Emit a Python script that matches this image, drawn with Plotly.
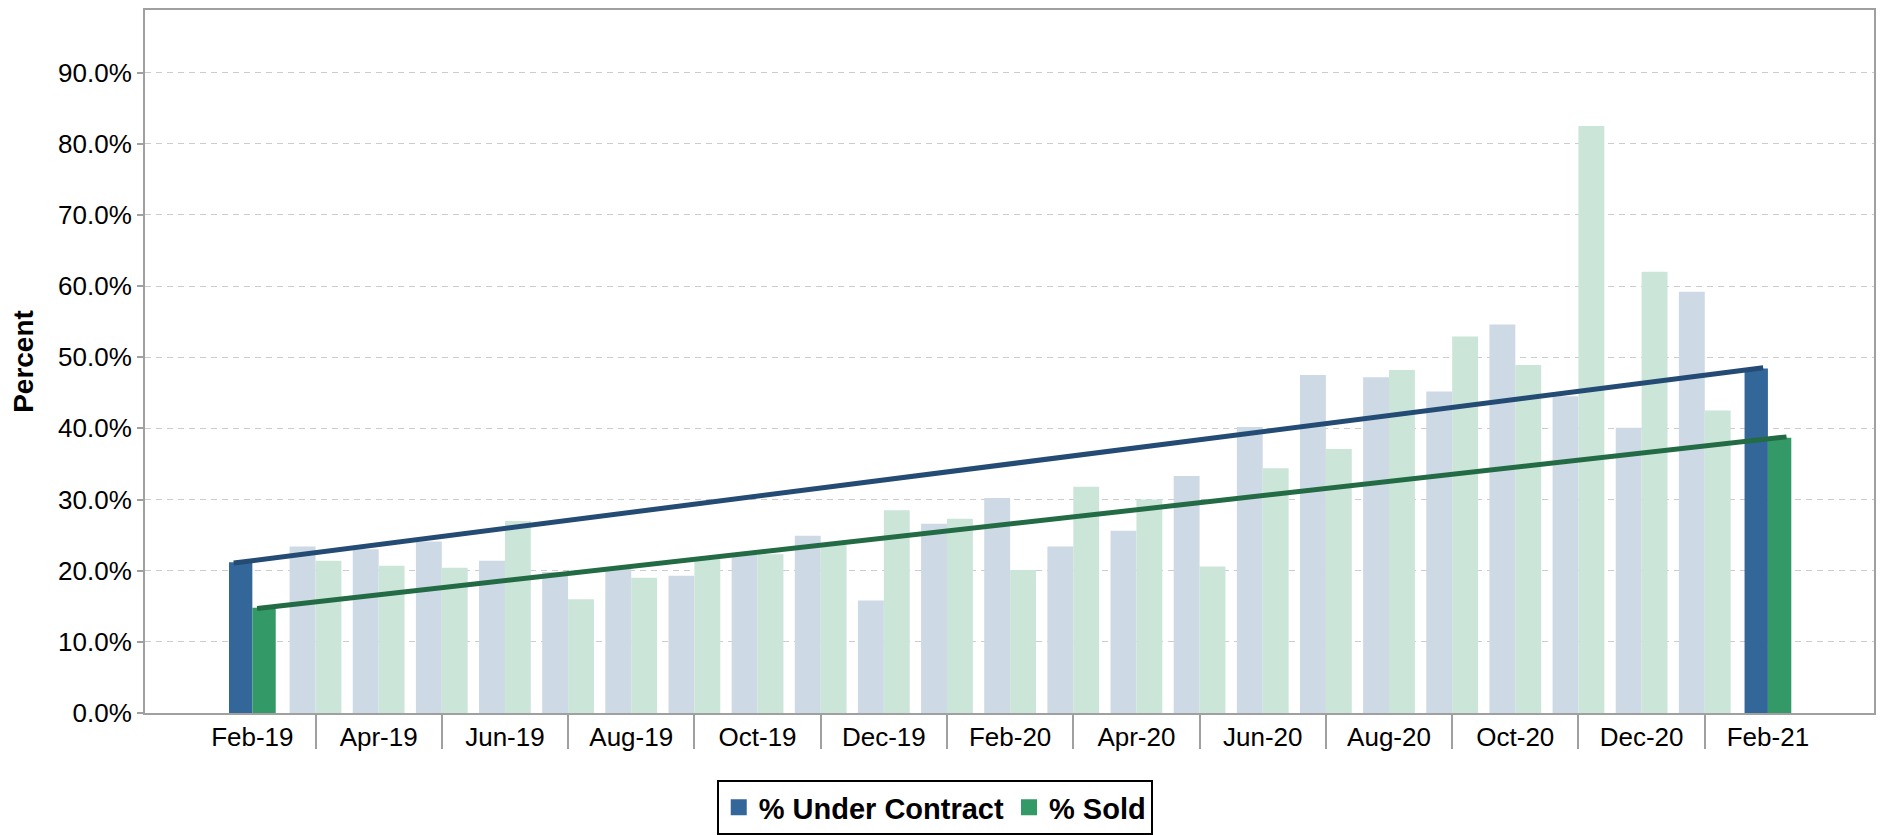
import plotly.graph_objects as go

# ---------------- data ----------------
months = ["Feb-19", "Mar-19", "Apr-19", "May-19", "Jun-19", "Jul-19", "Aug-19",
          "Sep-19", "Oct-19", "Nov-19", "Dec-19", "Jan-20", "Feb-20", "Mar-20",
          "Apr-20", "May-20", "Jun-20", "Jul-20", "Aug-20", "Sep-20", "Oct-20",
          "Nov-20", "Dec-20", "Jan-21", "Feb-21"]
under_contract = [21.2, 23.4, 23.0, 24.1, 21.4, 19.8, 20.3, 19.3, 22.2, 24.9,
                  15.8, 26.6, 30.2, 23.4, 25.6, 33.3, 40.2, 47.5, 47.2, 45.2,
                  54.6, 44.5, 40.1, 59.2, 48.4]
sold = [14.8, 21.4, 20.7, 20.4, 27.0, 16.0, 19.0, 21.6, 22.3, 23.6,
        28.5, 27.3, 20.1, 31.8, 30.0, 20.6, 34.4, 37.1, 48.2, 52.9,
        48.9, 82.5, 62.0, 42.5, 38.7]
highlighted = [0, len(months) - 1]          # first and last month are emphasised
y_ticks = [0, 10, 20, 30, 40, 50, 60, 70, 80, 90]
y_ticktext = [f"{v:.1f}%" for v in y_ticks]

# ---------------- styles ----------------
UC_DARK, UC_LIGHT = "#336699", "#cdd9e4"
SD_DARK, SD_LIGHT = "#339966", "#cce5d9"
UC_LINE, SD_LINE = "#234b73", "#236b45"
FONT = "Liberation Sans, Arial, sans-serif"
W_HI, W_LO = 0.37, 0.41

x = list(range(len(months)))
is_hi = [i in highlighted for i in x]
widths = [W_HI if h else W_LO for h in is_hi]

fig = go.Figure()
fig.add_trace(go.Bar(
    x=x, y=under_contract, width=widths, offset=[-w for w in widths],
    marker=dict(color=[UC_DARK if h else UC_LIGHT for h in is_hi], line=dict(width=0)),
    name="% Under Contract", showlegend=False, hoverinfo="x+y"))
fig.add_trace(go.Bar(
    x=x, y=sold, width=widths, offset=[0 for w in widths],
    marker=dict(color=[SD_DARK if h else SD_LIGHT for h in is_hi], line=dict(width=0)),
    name="% Sold", showlegend=False, hoverinfo="x+y"))

# trend lines joining first and last (highlighted) values
def trend(values, center_off, ext=0.11):
    i0, i1 = highlighted
    xa, xb = i0 + center_off, i1 + center_off
    slope = (values[i1] - values[i0]) / (xb - xa)
    return [xa - ext, xb + ext], [values[i0] - slope * ext, values[i1] + slope * ext]

tx, ty = trend(under_contract, -W_HI / 2)
fig.add_trace(go.Scatter(x=tx, y=ty, mode="lines", line=dict(color=UC_LINE, width=5),
                         showlegend=False, hoverinfo="skip"))
tx, ty = trend(sold, W_HI / 2)
fig.add_trace(go.Scatter(x=tx, y=ty, mode="lines", line=dict(color=SD_LINE, width=5),
                         showlegend=False, hoverinfo="skip"))

# legend entries
for nm, col in [("% Under Contract", UC_DARK), ("% Sold", SD_DARK)]:
    fig.add_trace(go.Scatter(x=[None], y=[None], mode="markers", name=nm,
                             marker=dict(symbol="square", size=22, color=col)))

# page body has an 8px margin -> figure is 8px smaller and margins compensate
fig.update_layout(
    width=1876, height=827,
    margin=dict(l=137, r=10, t=0, b=122),
    paper_bgcolor="white", plot_bgcolor="white",
    barmode="overlay",
    font=dict(family=FONT, color="black", size=26),
    legend=dict(orientation="h", xref="container", yref="container",
                x=0.494, xanchor="center", y=0.0, yanchor="bottom",
                bordercolor="black", borderwidth=2,
                font=dict(size=29, weight="bold", family=FONT),
                itemsizing="trace", tracegroupgap=0),
    showlegend=True,
)
fig.update_xaxes(
    range=[-1.70, 25.68],
    tickmode="array", tickvals=x[::2], ticktext=months[::2],
    ticks="",
    minor=dict(tickmode="array", tickvals=x[1::2], ticks="outside",
               ticklen=34, tickwidth=1.5, tickcolor="#a0a0a0", showgrid=False),
    showline=True, linecolor="#a0a0a0", linewidth=2, mirror=True,
    showgrid=False, zeroline=False,
    tickfont=dict(size=26, family=FONT, color="black"),
)
fig.update_yaxes(
    range=[0, 98.8],
    tickmode="array", tickvals=y_ticks, ticktext=y_ticktext,
    ticks="outside", ticklen=6, tickcolor="#a0a0a0", tickwidth=1.5,
    showline=True, linecolor="#a0a0a0", linewidth=2, mirror=True,
    showgrid=True, gridcolor="#cccccc", griddash="6px,5px", gridwidth=1,
    zeroline=False,
    tickfont=dict(size=26, family=FONT, color="black"),
    title=dict(text="Percent", font=dict(size=28, weight="bold", family=FONT), standoff=30),
)

fig.write_html("out.html")
